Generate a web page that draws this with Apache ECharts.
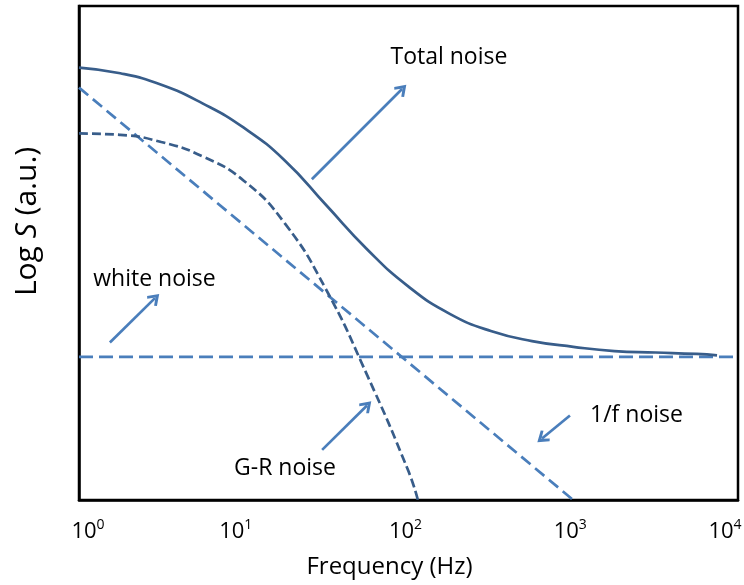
<!DOCTYPE html>
<html>
<head>
<meta charset="utf-8">
<script src="https://cdn.jsdelivr.net/npm/echarts@6/dist/echarts.min.js"></script>
<style>
  html, body { margin: 0; padding: 0; background: #fff; }
  #chart { width: 744px; height: 585px; }
</style>
</head>
<body>
<div id="chart"></div>
<script>
// Schematic noise spectrum: log S versus frequency (log scale)
const tickExponents = [0, 1, 2, 3, 4];

// Total noise (solid)
const freqTotal  = [1, 1.78, 3.16, 5.62, 10, 17.8, 31.6, 56.2, 100, 178, 316, 562, 1000, 1780, 3160, 5620, 7460];
const logSTotal  = [3.02, 2.98, 2.90, 2.77, 2.60, 2.37, 2.06, 1.75, 1.49, 1.30, 1.18, 1.11, 1.07, 1.04, 1.03, 1.02, 1.01];

// Generation-recombination noise (dark dashed)
const freqGR     = [1, 1.78, 3.16, 5.62, 10, 17.8, 31.6, 56.2, 100, 114];
const logSGR     = [2.56, 2.55, 2.50, 2.40, 2.23, 1.93, 1.47, 0.87, 0.20, 0];

// 1/f noise (light dashed)
const freqFlicker = [1, 10, 100, 1000];
const logSFlicker = [2.88, 1.92, 0.96, 0];

// White noise floor (light dashed)
const freqWhite  = [1, 10000];
const logSWhite  = [1, 1];

// Annotation labels and the arrows pointing from them: [freq, logS]
const labelTotal   = [176, 3.09];
const labelWhite   = [2.87, 1.54];
const labelGR      = [17.8, 0.22];
const labelFlicker = [2420, 0.59];

const arrowTotal   = [[25.9, 2.24], [91.4, 2.87]];
const arrowWhite   = [[1.54, 1.10], [2.89, 1.41]];
const arrowGR      = [[29.9, 0.35], [56, 0.66]];
const arrowFlicker = [[955, 0.59], [646, 0.43]];

const DARK = '#385D8A';
const LIGHT = '#4A7EBB';
const FONT = 'Open Sans';
const LINE_W = 2.7;
const chevron = 'path://M5,0 L10,8 L8.5,9.5 L5,4.2 L1.5,9.5 L0,8 Z';

// horizontal nudges (px) for the decade labels under the axis
const tickLabelNudge = { 0: 9, 1: -8, 2: -3, 3: -3, 4: -13 };

const zip = (xs, ys) => xs.map((x, i) => [x, ys[i]]);

function annotation(text, at, arrow) {
  return {
    markPoint: {
      silent: true,
      symbol: 'circle',
      symbolSize: 0,
      data: [{ coord: at, value: text }],
      label: {
        show: true, position: 'inside', formatter: text,
        color: '#000', fontFamily: FONT, fontSize: 23
      }
    },
    markLine: {
      silent: true,
      symbol: ['none', chevron],
      symbolSize: [14, 12],
      label: { show: false },
      lineStyle: { color: LIGHT, width: LINE_W, type: 'solid' },
      data: [[{ coord: arrow[0] }, { coord: arrow[1] }]]
    }
  };
}

// rich styles for "10^n" tick labels, one pair per exponent so each can be nudged
const tickRich = {};
tickExponents.forEach(e => {
  const n = tickLabelNudge[e] || 0;
  const padL = n > 0 ? 2 * n : 0;
  const padR = n < 0 ? -2 * n : 0;
  tickRich['b' + e] = { fontFamily: FONT, fontSize: 22, color: '#000', lineHeight: 28, padding: [0, 0, 0, padL] };
  tickRich['s' + e] = { fontFamily: FONT, fontSize: 14, color: '#000', lineHeight: 28, verticalAlign: 'top', padding: [0, padR, 10, 0] };
});

const chart = echarts.init(document.getElementById('chart'), null, { renderer: 'canvas' });

chart.setOption({
  animation: false,
  backgroundColor: '#fff',
  grid: {
    left: 79, right: 6, top: 6, bottom: 85,
    outerBoundsMode: 'none',
    show: true, borderColor: '#000', borderWidth: 2.5
  },
  xAxis: {
    type: 'log', logBase: 10, min: 1, max: 10000,
    name: 'Frequency (Hz)', nameLocation: 'middle', nameGap: 55,
    nameTextStyle: { color: '#000', fontFamily: FONT, fontSize: 24, padding: [0, 38, 0, 0] },
    axisLine: { show: true, lineStyle: { color: '#000', width: 2.5 } },
    axisTick: { show: false },
    splitLine: { show: false },
    axisLabel: {
      margin: 18,
      formatter: v => {
        const e = Math.round(Math.log10(v));
        return tickExponents.includes(e) ? '{b' + e + '|10}{s' + e + '|' + e + '}' : '';
      },
      rich: tickRich
    }
  },
  yAxis: {
    type: 'value', min: 0, max: 3.45,
    name: '{n|Log }{i|S}{n| (a.u.)}', nameLocation: 'middle', nameGap: 37,
    nameTextStyle: {
      padding: [0, 0, 0, 63],
      rich: {
        n: { fontFamily: FONT, fontSize: 30, color: '#000' },
        i: { fontFamily: FONT, fontSize: 30, color: '#000', fontStyle: 'italic' }
      }
    },
    axisLine: { show: true, lineStyle: { color: '#000', width: 2.5 } },
    axisTick: { show: false },
    axisLabel: { show: false },
    splitLine: { show: false }
  },
  series: [
    Object.assign({
      name: 'white noise', type: 'line', showSymbol: false,
      data: zip(freqWhite, logSWhite),
      lineStyle: { color: LIGHT, width: LINE_W, type: [14, 6] }
    }, annotation('white noise', labelWhite, arrowWhite)),
    Object.assign({
      name: '1/f noise', type: 'line', showSymbol: false,
      data: zip(freqFlicker, logSFlicker),
      lineStyle: { color: LIGHT, width: LINE_W, type: [12, 6] }
    }, annotation('1/f noise', labelFlicker, arrowFlicker)),
    Object.assign({
      name: 'G-R noise', type: 'line', showSymbol: false,
      smooth: 0.5,
      data: zip(freqGR, logSGR),
      lineStyle: { color: DARK, width: LINE_W, type: [9, 4] }
    }, annotation('G-R noise', labelGR, arrowGR)),
    Object.assign({
      name: 'Total noise', type: 'line', showSymbol: false,
      smooth: 0.5,
      data: zip(freqTotal, logSTotal),
      lineStyle: { color: DARK, width: LINE_W }
    }, annotation('Total noise', labelTotal, arrowTotal))
  ]
});
</script>
</body>
</html>
